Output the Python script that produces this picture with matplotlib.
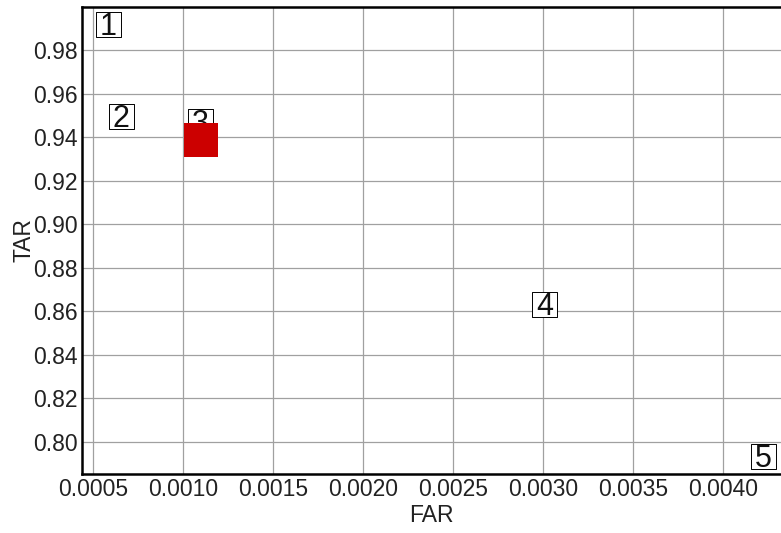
import matplotlib
matplotlib.use('Agg')
import matplotlib.pyplot as plt

plt.rcParams['font.family'] = ['Liberation Sans', 'DejaVu Sans']

# 라벨 위치 (FAR, TAR)
labels = ['1', '2', '3', '4', '5']
far = [0.000583, 0.000656, 0.001097, 0.003008, 0.004222]
tar = [0.9920, 0.9499, 0.9476, 0.8634, 0.7936]

# 선택된 점
sel_far = [0.00110]
sel_tar = [0.9386]

xticks = [0.0005, 0.0010, 0.0015, 0.0020, 0.0025, 0.0030, 0.0035, 0.0040]
yticks = [0.80, 0.82, 0.84, 0.86, 0.88, 0.90, 0.92, 0.94, 0.96, 0.98]

fig = plt.figure(figsize=(7.81, 5.33), dpi=100)
ax = fig.add_axes([82 / 781, 1 - 474 / 533, 1 - 82 / 781, 467 / 533])

ax.set_xlim(0.000439, 0.004322)
ax.set_ylim(0.7853, 0.9998)
ax.set_xticks(xticks)
ax.set_yticks(yticks)
ax.set_xticklabels(['%.4f' % v for v in xticks])
ax.set_yticklabels(['%.2f' % v for v in yticks])
ax.tick_params(length=0, labelsize=16.5, pad=3, labelcolor='#222222')
ax.grid(True, color='#a0a0a0', linewidth=0.9)
ax.set_axisbelow(True)

for s in ['left', 'bottom', 'top']:
    ax.spines[s].set_linewidth(1.8)
    ax.spines[s].set_color('black')
ax.spines['right'].set_visible(False)

# 라벨 박스
ax.scatter(far, tar, marker='s', s=18 ** 2, facecolor='white',
           edgecolor='black', linewidth=0.7, zorder=3)
for lb, x, y in zip(labels, far, tar):
    ax.text(x, y, lb, fontsize=22, ha='center', va='center_baseline',
            color='#111111', zorder=4)

ax.scatter(sel_far, sel_tar, marker='s', s=24 ** 2, color='#cc0000',
           linewidth=0, zorder=5)

ax.set_xlabel('FAR', fontsize=16.5, labelpad=2, color='#222222')
ax.set_ylabel('TAR', fontsize=16.5, labelpad=-2, color='#222222')

fig.savefig('out.png', dpi=100)
